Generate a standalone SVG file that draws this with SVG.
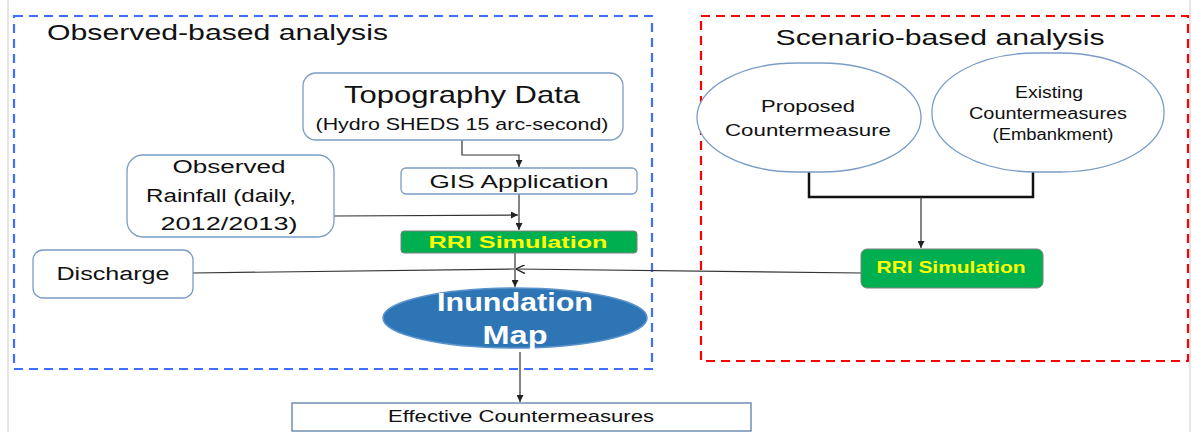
<svg xmlns="http://www.w3.org/2000/svg" width="1192" height="432" viewBox="0 0 1192 432">
<defs>
<marker id="ah" viewBox="0 0 10 10" refX="10" refY="5" markerWidth="7" markerHeight="7" orient="auto" markerUnits="userSpaceOnUse"><path d="M0,0 L10,5 L0,10 z" fill="#222"/></marker>
<marker id="oa" viewBox="0 0 10 10" refX="10" refY="5" markerWidth="9" markerHeight="9" orient="auto" markerUnits="userSpaceOnUse"><path d="M0,0 L10,5 L0,10" fill="none" stroke="#222" stroke-width="1.5"/></marker>
</defs>
<style>
text{font-family:"Liberation Sans",Arial,sans-serif;fill:#111;text-anchor:middle}
.node{fill:#fff;stroke:#7A9CC6;stroke-width:1.3}
.green{fill:#00B050;stroke:#7f7f7f;stroke-width:1}
.yt{fill:#FFFF00;font-weight:bold}
.wt{fill:#fff;font-weight:bold}
.c{fill:none;stroke:#333;stroke-width:1.2}
.thick{fill:none;stroke:#111;stroke-width:2.5}
</style>
<rect width="1192" height="432" fill="#fff"/>
<line x1="8" y1="0" x2="8" y2="432" stroke="#ccc" stroke-width="1"/>
<line x1="1190" y1="0" x2="1190" y2="432" stroke="#ccc" stroke-width="1"/>
<g id="observed-group">
<rect x="14" y="16" width="638" height="353" fill="none" stroke="#3F6FFF" stroke-width="2.2" stroke-dasharray="9,6"/>
<text x="47" y="40" font-size="22" style="text-anchor:start" textLength="341" lengthAdjust="spacingAndGlyphs">Observed-based analysis</text>
</g>
<g id="scenario-group">
<rect x="701" y="16" width="487" height="345" fill="none" stroke="#FF0000" stroke-width="2.2" stroke-dasharray="9,6"/>
<text x="940" y="45" font-size="22" textLength="329" lengthAdjust="spacingAndGlyphs">Scenario-based analysis</text>
</g>
<g id="connectors">
<polyline class="c" points="462,140 462,155 519,155 519,167" marker-end="url(#ah)"/>
<line class="c" x1="519" y1="194" x2="519" y2="230" marker-end="url(#ah)"/>
<line class="c" x1="334" y1="216" x2="518" y2="215" marker-end="url(#ah)"/>
<line class="c" x1="515" y1="253" x2="515" y2="287" marker-end="url(#ah)"/>
<line class="c" x1="193" y1="273" x2="514" y2="269"/>
<line class="c" x1="862" y1="273" x2="516" y2="269" marker-end="url(#oa)"/>
<line class="c" x1="520" y1="352" x2="520" y2="402" marker-end="url(#ah)"/>
<polyline class="thick" points="809,171 809,197 1033,197 1033,153"/>
<line class="c" x1="921" y1="197" x2="921" y2="248" marker-end="url(#ah)"/>
</g>
<g id="topography">
<rect class="node" x="303" y="73" width="320" height="67" rx="13"/>
<text x="462" y="103" font-size="24" textLength="236" lengthAdjust="spacingAndGlyphs">Topography Data</text>
<text x="462" y="130" font-size="17" textLength="293" lengthAdjust="spacingAndGlyphs">(Hydro SHEDS 15 arc-second)</text>
</g>
<g id="gis">
<rect class="node" x="401" y="168" width="236" height="26" rx="5"/>
<text x="519" y="188" font-size="18" textLength="179" lengthAdjust="spacingAndGlyphs">GIS Application</text>
</g>
<g id="rainfall">
<rect class="node" x="127" y="155" width="207" height="82" rx="16"/>
<text x="229" y="173" font-size="18" textLength="113" lengthAdjust="spacingAndGlyphs">Observed</text>
<text x="221" y="202" font-size="18" textLength="150" lengthAdjust="spacingAndGlyphs">Rainfall (daily,</text>
<text x="229" y="230" font-size="18" textLength="137" lengthAdjust="spacingAndGlyphs">2012/2013)</text>
</g>
<g id="rri-left">
<rect class="green" x="401" y="231" width="236" height="22" rx="3"/>
<text class="yt" x="518" y="248" font-size="16" textLength="179" lengthAdjust="spacingAndGlyphs">RRI Simulation</text>
</g>
<g id="discharge">
<rect class="node" x="33" y="250" width="160" height="48" rx="10"/>
<text x="113" y="280" font-size="18" textLength="113" lengthAdjust="spacingAndGlyphs">Discharge</text>
</g>
<g id="inundation">
<ellipse cx="515" cy="318" rx="132" ry="30" fill="#2E75B6" stroke="#5A93CB" stroke-width="1.5"/>
<text class="wt" x="515" y="311" font-size="25" textLength="156" lengthAdjust="spacingAndGlyphs">Inundation</text>
<text class="wt" x="515" y="344" font-size="25" textLength="65" lengthAdjust="spacingAndGlyphs">Map</text>
</g>
<g id="effective">
<rect x="292" y="403" width="459" height="28" fill="#fff" stroke="#5B7FA8" stroke-width="1.3"/>
<text x="521" y="422" font-size="17" textLength="266" lengthAdjust="spacingAndGlyphs">Effective Countermeasures</text>
</g>
<g id="proposed">
<rect class="node" x="697" y="63" width="224" height="109" rx="100" ry="54"/>
<text x="808" y="112" font-size="17" textLength="94" lengthAdjust="spacingAndGlyphs">Proposed</text>
<text x="808" y="136" font-size="17" textLength="166" lengthAdjust="spacingAndGlyphs">Countermeasure</text>
</g>
<g id="existing">
<rect class="node" x="932" y="53" width="232" height="119" rx="104" ry="58"/>
<text x="1049" y="98" font-size="16" textLength="68" lengthAdjust="spacingAndGlyphs">Existing</text>
<text x="1048" y="119" font-size="16" textLength="158" lengthAdjust="spacingAndGlyphs">Countermeasures</text>
<text x="1053" y="140" font-size="16" textLength="121" lengthAdjust="spacingAndGlyphs">(Embankment)</text>
</g>
<g id="rri-right">
<rect class="green" x="861" y="249" width="182" height="39" rx="6"/>
<text class="yt" x="951" y="273" font-size="17" textLength="149" lengthAdjust="spacingAndGlyphs">RRI Simulation</text>
</g>
</svg>
